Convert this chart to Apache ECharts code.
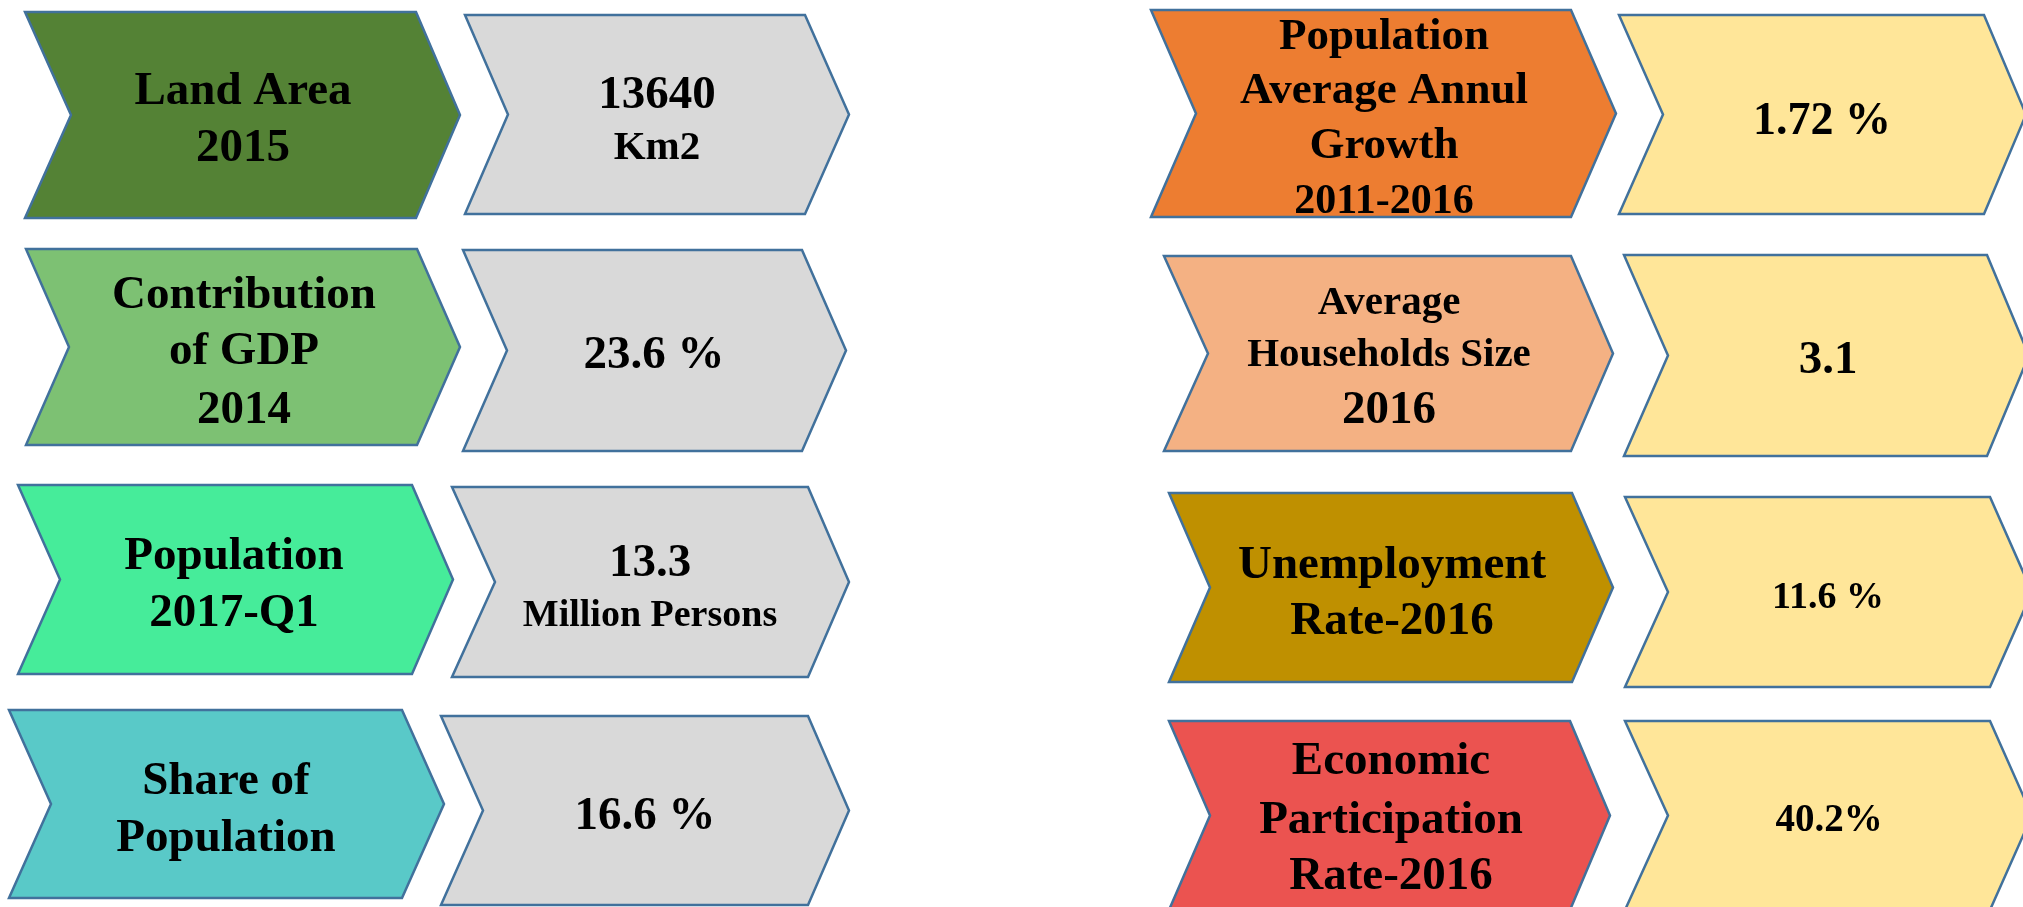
<!DOCTYPE html>
<html>
<head>
<meta charset="utf-8">
<title>Key Indicators</title>
<script src="https://cdn.jsdelivr.net/npm/echarts@6/dist/echarts.min.js"></script>
<style>
  html, body {
    margin: 0;
    padding: 0;
    background: #ffffff;
  }
  #chart {
    width: 2023px;
    height: 907px;
  }
</style>
</head>
<body>
<div id="chart"></div>
<script>
// 指标名称（每行一项）
const labelLines = [
  ['Land Area', '2015'],
  ['Contribution', 'of GDP', '2014'],
  ['Population', '2017-Q1'],
  ['Share of', 'Population'],
  ['Population', 'Average Annul', 'Growth', '2011-2016'],
  ['Average', 'Households Size', '2016'],
  ['Unemployment', 'Rate-2016'],
  ['Economic', 'Participation', 'Rate-2016'],
]

// 指标数值
const valueLines = [
  ['13640', 'Km2'],
  ['23.6 %'],
  ['13.3', 'Million Persons'],
  ['16.6 %'],
  ['1.72 %'],
  ['3.1'],
  ['11.6 %'],
  ['40.2%'],
]

// 箭头形状: [left, notch, bodyRight, tip, top, bottom]
const labelShapes = [
  [25, 71, 416, 460, 12, 218],
  [26, 69, 417, 460, 249, 445],
  [18, 60, 412, 453, 485, 674],
  [9, 51, 402, 444, 710, 898],
  [1151, 1196, 1571, 1616, 10, 217],
  [1164, 1208, 1571, 1613, 256, 451],
  [1169, 1210, 1572, 1613, 493, 682],
  [1169, 1210, 1570, 1610, 721, 910],
]

const valueShapes = [
  [465, 508, 805, 849, 15, 214],
  [463, 507, 802, 846, 250, 451],
  [452, 495, 808, 849, 487, 677],
  [441, 483, 808, 849, 716, 905],
  [1619, 1663, 1984, 2026, 15, 214],
  [1624, 1668, 1987, 2029, 255, 456],
  [1625, 1668, 1990, 2032, 497, 687],
  [1625, 1668, 1990, 2032, 721, 910],
]

// 文字位置: [centerX, baselines, fontSizes]
const labelText = [
  [243, [103, 160], [47, 47]],
  [244, [307, 363, 422], [47, 47, 47]],
  [234, [568, 625], [47, 47]],
  [226, [793, 850], [47, 47]],
  [1384, [48, 102, 157, 212], [45, 45, 45, 42]],
  [1389, [313, 365, 422], [41, 41, 47]],
  [1392, [577, 633], [47, 47]],
  [1391, [773, 832, 888], [47, 47, 47]],
]

const valueText = [
  [657, [107, 158], [47, 41]],
  [654, [367], [47]],
  [650, [575, 625], [47, 38]],
  [645, [828], [47]],
  [1822, [133], [46]],
  [1828, [372], [47]],
  [1828, [607], [38]],
  [1829, [830], [39]],
]

const labelColors = [
  '#548235', '#7DC173', '#46EC9A', '#59C9C8',
  '#ED7D31', '#F4B183', '#BF9000', '#EB5350',
]
const valueColors = [
  '#D9D9D9', '#D9D9D9', '#D9D9D9', '#D9D9D9',
  '#FFE699', '#FFE699', '#FFE699', '#FFE699',
]

const borderColor = '#41719C'
const fontFamily = '"Liberation Serif", "Times New Roman", serif'

const chevron = (api, s, fill) => {
  const [left, notch, bodyRight, tip, top, bottom] = s
  const mid = (top + bottom) / 2
  const points = [
    [left, top], [bodyRight, top], [tip, mid],
    [bodyRight, bottom], [left, bottom], [notch, mid],
  ].map((p) => api.coord(p))
  return {
    type: 'polygon',
    shape: { points },
    style: { fill, stroke: borderColor, lineWidth: 2.5, lineJoin: 'miter' },
  }
}

const textLines = (api, lines, layout) => {
  const [cx, baselines, sizes] = layout
  return lines.map((line, i) => {
    const fs = sizes[i]
    const p = api.coord([cx, baselines[i] - fs * 0.23])
    return {
      type: 'text',
      style: {
        text: line,
        x: p[0],
        y: p[1],
        font: 'bold ' + fs + 'px ' + fontFamily,
        fill: '#000000',
        align: 'center',
        verticalAlign: 'middle',
      },
    }
  })
}

const chart = echarts.init(document.getElementById('chart'))

chart.setOption({
  animation: false,
  backgroundColor: '#ffffff',
  grid: { left: 0, right: 0, top: 0, bottom: 0 },
  xAxis: { type: 'value', min: 0, max: 2023, show: false },
  yAxis: { type: 'value', min: 0, max: 907, inverse: true, show: false },
  series: [
    {
      type: 'custom',
      coordinateSystem: 'cartesian2d',
      data: labelLines.map((_, i) => [i]),
      renderItem: (params, api) => {
        const i = api.value(0)
        return {
          type: 'group',
          children: [
            chevron(api, labelShapes[i], labelColors[i]),
            chevron(api, valueShapes[i], valueColors[i]),
            ...textLines(api, labelLines[i], labelText[i]),
            ...textLines(api, valueLines[i], valueText[i]),
          ],
        }
      },
    },
  ],
})

window.addEventListener('resize', () => chart.resize())
</script>
</body>
</html>
